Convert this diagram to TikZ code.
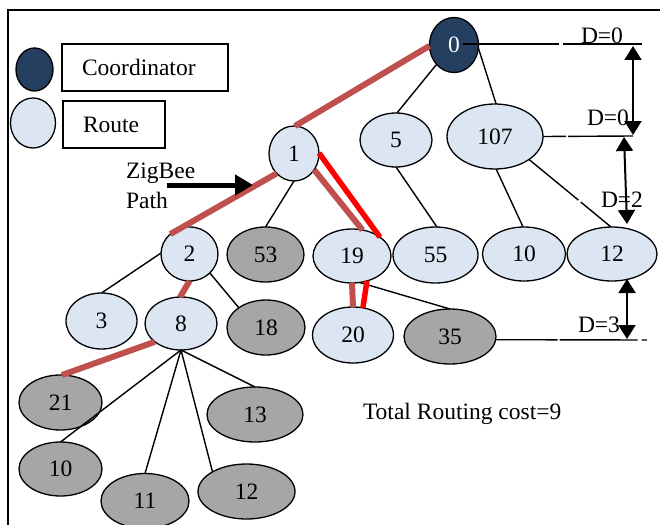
\documentclass[tikz,border=0pt]{standalone}
\usepackage{fontspec}
\setmainfont{Liberation Serif}
\usetikzlibrary{arrows.meta,shapes.geometric}

\definecolor{navy}{RGB}{36,63,96}
\definecolor{paleblue}{RGB}{220,230,242}
\definecolor{midgray}{RGB}{166,166,166}
\definecolor{pathbrown}{RGB}{192,80,77}
\definecolor{pathred}{RGB}{255,0,0}

\begin{document}
\begin{tikzpicture}[x=1pt,y=-1pt,
  every node/.style={font=\fontsize{23.5}{28}\selectfont, inner sep=0pt, outer sep=0pt},
  sz/.style 2 args={minimum width=#1pt, minimum height=#2pt},
  coordnode/.style={ellipse, draw=black, line width=1.3pt, fill=navy, text=white},
  routernode/.style={ellipse, draw=black, line width=1.3pt, fill=paleblue},
  enddev/.style={ellipse, draw=black, line width=1.3pt, fill=midgray},
  legbox/.style={rectangle, draw=black, line width=1.3pt, inner xsep=20pt, align=left, minimum height=47pt, anchor=north west},
  link/.style={draw=black, line width=1.4pt},
  zpath/.style={draw=pathbrown, line width=6pt},
  rpath/.style={draw=pathred, line width=5.5pt},
  dimarrow/.style={draw=black, line width=2pt, {Triangle[length=14pt,width=17pt]}-{Triangle[length=14pt,width=17pt]}}
]
\useasboundingbox (0,0) rectangle (660,524);
\clip (0,0) rectangle (660,524);
\fill[white] (0,0) rectangle (660,524);

% outer frame
\draw[line width=2pt] (8,10) rectangle (690,560);

% legend
\node[coordnode, sz={37}{43}] (legC) at (34.5,69.5) {};
\node[routernode, sz={45}{50}] (legR) at (33,123) {};
\node[legbox, text width=126pt] (boxC) at (62,44) {Coordinator};
\node[legbox, text width=62pt] (boxR) at (63,101) {Route};

% tree nodes
\node[coordnode, sz={49}{55}] (n0) at (454,45) {0};
\node[routernode, sz={50}{55}] (n1) at (294,153.5) {1};
\node[routernode, sz={72}{54}] (n5) at (396,140) {5};
\node[routernode, sz={96}{65}] (n107) at (495,136.5) {107};
\node[routernode, sz={57}{54}] (n2) at (189.5,254) {2};
\node[enddev, sz={77}{55}] (n53) at (265.5,254.5) {53};
\node[routernode, sz={78}{54}] (n19) at (352,256) {19};
\node[routernode, sz={85}{56}] (n55) at (435.5,255) {55};
\node[routernode, sz={83}{54}] (n10a) at (524,254) {10};
\node[routernode, sz={90}{54}] (n12a) at (612,254) {12};
\node[routernode, sz={71}{56}] (n3) at (101.5,321) {3};
\node[routernode, sz={72}{53}] (n8) at (181,323.5) {8};
\node[enddev, sz={78}{55}] (n18) at (266,327.5) {18};
\node[routernode, sz={81}{56}] (n20) at (353,335) {20};
\node[enddev, sz={92}{55}] (n35) at (450,336.5) {35};
\node[enddev, sz={83}{55}] (n21) at (60.5,402.5) {21};
\node[enddev, sz={96}{55}] (n13) at (255,414.5) {13};
\node[enddev, sz={83}{54}] (n10b) at (60.5,469) {10};
\node[enddev, sz={88}{55}] (n11) at (145,501) {11};
\node[enddev, sz={97}{55}] (n12b) at (246.5,491.5) {12};

% tree links
\draw[link] (n0.228) -- (n5.88);
\draw[link] (n0.353) -- (n107.88);
\draw[link] (n107.272) -- (n10a.92);
\draw[link, dash pattern=on 64pt off 3pt on 100pt] (n107.326) -- (n12a.92);
\draw[link] (n5.270) -- (n55.87);
\draw[link] (n1.270) -- (n53.90);
\draw[link] (n2.178) -- (n3.90);
\draw[link] (n2.317) -- (n18.144);
\draw[link] (n19.286) -- (n35.90);
\draw[link] (n8.270) -- (n10b.90);
\draw[link] (n8.270) -- (n11.90);
\draw[link] (n8.270) -- (n12b.150);
\draw[link] (n8.270) -- (n13.90);

% routing paths
\draw[zpath] (n0.182) -- (n1.88);
\draw[zpath] (n1.229) -- (n2.134);
\draw[zpath] (n1.321) -- (n19.68);
\draw[rpath] (n1.1) -- (n19.34);
\draw[zpath] (n19.270) -- (n20.90);
\draw[rpath] (n19.301) -- (n20.70);
\draw[zpath] (n2.270) -- (n8.92);
\draw[zpath] (n8.215) -- (n21.87);

% ZigBee path pointer
\node[anchor=base west] (zb1) at (126,178) {ZigBee};
\node[anchor=base west] (zb2) at (126,208) {Path};
\coordinate (zbtail) at (167,185);
\coordinate (zbtip) at (253,185);
\draw[line width=5pt, -{Triangle[length=18pt,width=20pt]}] (zbtail) -- (zbtip);

% depth levels
\coordinate (h0end) at (642,44);
\coordinate (h1end) at (633,136);
\coordinate (h3end) at (647,340);
\draw[link, dash pattern=on 96pt off 4pt on 200pt] ([xshift=9pt,yshift=1pt]n0.center) -- (h0end);
\draw[link, dash pattern=on 23pt off 2pt on 200pt] (n107.east) -- (h1end);
\draw[link, dash pattern=on 62pt off 2pt on 78pt off 4pt on 20pt] (n35.356) -- (h3end);

\coordinate (a0t) at (633,46);
\coordinate (a0b) at (633,135);
\coordinate (a1t) at (624,137);
\coordinate (a1b) at (627,224);
\coordinate (a2t) at (627,279);
\coordinate (a2b) at (627,339);
\draw[dimarrow] (a0t) -- (a0b);
\draw[dimarrow] (a1t) -- (a1b);
\draw[dimarrow] (a2t) -- (a2b);

\node[anchor=base west] (lab0) at (581,44) {D=0};
\node[anchor=base west] (lab1) at (587,125) {D=0};
\node[anchor=base west] (lab2) at (601,207) {D=2};
\node[anchor=base west] (lab3) at (578,332) {D=3};

\node[anchor=base west] (cost) at (363,419) {Total Routing cost=9};
\end{tikzpicture}
\end{document}
